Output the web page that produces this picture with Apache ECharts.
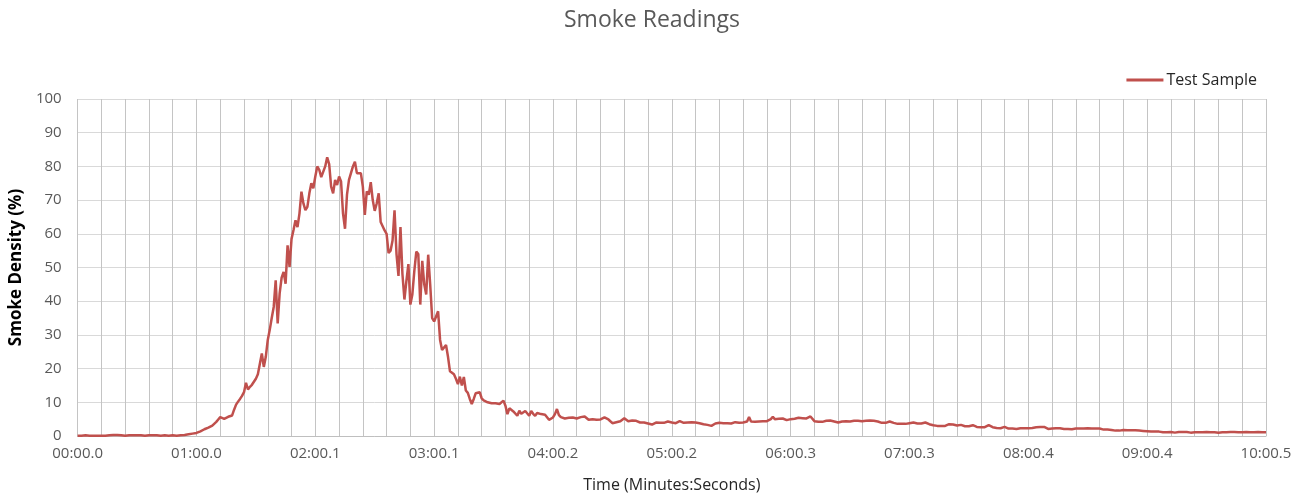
<!DOCTYPE html>
<html>
<head>
<meta charset="utf-8">
<title>Smoke Readings</title>
<script src="https://cdn.jsdelivr.net/npm/echarts@6/dist/echarts.min.js"></script>
<style>
  html, body { margin: 0; padding: 0; background: #fff; }
  #chart { width: 1304px; height: 500px; }
</style>
</head>
<body>
<div id="chart"></div>
<script>
// one reading per sample, ~1.0008 s apart (601 samples over 10:00.5)
// split per minute so it stays readable
const min0 = [0.1,0.1,0.1,0.1,0.2,0.1,0.1,0.1,0.1,0.2,
  0.1,0.1,0.1,0.2,0.1,0.1,0.2,0.2,0.3,0.4,
  0.3,0.2,0.2,0.2,0.1,0.2,0.2,0.1,0.2,0.2,
  0.2,0.3,0.2,0.2,0.1,0.2,0.2,0.3,0.2,0.1,
  0.2,0.2,0.1,0.1,0.2,0.1,0.1,0.2,0.2,0.1,
  0.1,0.1,0.2,0.3,0.3,0.4,0.5,0.6,0.7,0.8];
const min1 = [0.9,1.1,1.4,1.7,2.0,2.2,2.5,2.7,3.1,3.6,
  4.2,4.9,5.6,5.3,5.1,5.4,5.7,5.9,6.1,7.8,
  9.3,10.2,11.0,11.9,13.0,15.8,13.8,14.6,15.2,15.3,
  17.0,18.3,18.5,24.5,20.5,23.5,28.5,31.5,35.0,38.3,
  46.2,33.4,42.3,47.0,48.7,45.2,56.6,50.2,58.5,61.1,
  64.0,62.0,66.0,72.5,69.0,67.0,68.0,72.0,75.0,73.5];
const min2 = [77,80,79,76.8,76.3,80,82.7,80.7,74,72,
  76,74.5,77,75.5,66,61.5,71.6,76,78,80,
  81.4,78,77.5,78,74,65.6,72.6,71.6,75.3,70,
  66.8,69,72,63.5,63,61,60,54.3,55,58,
  67,54,47.5,62,48,40.5,46,51,39,42,
  49,54.7,54,39,52,45,42,53.8,45,35];
const min3 = [34,34.5,37,28.5,25.5,26,27,23.5,19.2,18.7,
  18.3,17,15.4,17.6,15,17.5,13.5,12.8,11,9.5,
  11,12.7,12.2,13,11.2,10.6,10.3,10,9.8,9.7,
  9.3,9.7,9.2,9.5,9.9,10.5,9,6.5,8.2,8.5,
  7.3,7.5,6,7.5,6.6,7.1,7.4,7.3,6,7.4,
  6.6,6,6.8,6.7,6.5,6,6.3,6.1,4.8,5.2];
const min4 = [5.5,6.5,8.0,6.2,5.6,5.8,5.2,5.0,5.4,5.9,
  5.5,5.0,5.2,5.3,5.6,5.4,5.8,5.6,4.8,4.6,
  5.0,5.1,4.8,4.6,4.9,5.3,5.5,5.1,4.9,4.4,
  3.8,3.9,4.1,4.0,4.4,4.9,5.3,4.8,4.4,4.3,
  4.6,4.8,4.5,4.1,4.0,4.3,4.0,3.8,3.7,3.6,
  3.4,3.8,4.0,3.8,3.9,3.7,3.9,4.2,4.3,4.0];
const min5 = [4.0,4.1,3.8,4.0,4.4,4.2,3.9,4.1,4.0,3.7,
  4.1,3.9,4.0,4.2,3.8,3.6,3.5,3.4,3.3,3.1,
  3.0,3.3,3.7,4.0,3.9,3.7,3.8,3.6,3.8,3.7,
  3.7,3.9,4.1,4.0,3.9,4.1,4.0,4.0,4.3,5.6,
  4.3,4.0,4.2,4.5,4.3,4.1,4.4,4.7,4.4,4.3,
  5.0,5.7,5.0,4.7,5.1,5.5,5.2,4.9,4.7,4.9];
const min6 = [5.0,5.2,5.1,5.3,5.4,5.5,5.3,5.4,5.2,5.6,
  5.8,5.3,4.4,4.0,4.2,4.3,4.2,4.4,4.5,4.4,
  4.6,4.4,4.3,4.2,4.0,4.1,4.3,4.5,4.4,4.2,
  4.3,4.4,4.5,4.7,4.5,4.3,4.4,4.3,4.5,4.7,
  4.6,4.4,4.5,4.4,4.3,4.2,3.9,3.7,3.9,4.1,
  4.3,4.1,3.9,3.7,3.6,3.5,3.6,3.7,3.6,3.7];
const min7 = [3.8,3.9,4.0,3.8,3.7,3.6,3.7,3.9,4.0,3.7,
  3.5,3.3,3.2,3.1,3.0,3.1,3.0,2.9,3.0,3.2,
  3.5,3.7,3.4,3.0,3.1,3.2,3.3,3.2,2.9,2.7,
  2.9,3.1,3.2,2.9,2.7,2.6,2.6,2.5,2.6,2.9,
  3.2,2.9,2.6,2.5,2.4,2.3,2.3,2.5,2.7,2.4,
  2.2,2.3,2.2,2.1,2.1,2.2,2.3,2.2,2.3,2.3];
const min8 = [2.3,2.4,2.4,2.5,2.6,2.6,2.7,2.8,2.7,2.4,
  2.1,2.0,2.2,2.3,2.3,2.2,2.3,2.2,2.1,2.2,
  2.1,2.0,2.0,2.1,2.2,2.1,2.2,2.3,2.2,2.2,
  2.3,2.3,2.2,2.3,2.2,2.1,2.2,2.1,1.9,1.8,
  1.9,1.8,1.8,1.7,1.6,1.7,1.6,1.7,1.8,1.8,
  1.7,1.8,1.7,1.6,1.7,1.6,1.6,1.5,1.5,1.4];
const min9 = [1.4,1.3,1.3,1.4,1.3,1.2,1.3,1.2,1.1,1.2,
  1.1,1.2,1.2,1.1,1.0,1.1,1.2,1.1,1.2,1.3,
  1.2,1.1,1.0,1.0,1.1,1.0,1.1,1.2,1.1,1.2,
  1.2,1.1,1.1,1.2,1.1,1.1,1.0,1.1,1.1,1.2,
  1.1,1.1,1.2,1.3,1.2,1.2,1.1,1.2,1.1,1.1,
  1.2,1.1,1.1,1.0,1.1,1.1,1.2,1.1,1.1,1.1];
const lastReading = [1.1];

const smokeData = [].concat(min0, min1, min2, min3, min4, min5, min6, min7, min8, min9, lastReading);

// time stamps: total run 600.5 s over 600 steps, shown as mm:ss.t (truncated)
const totalTenths = 6005;
const steps = smokeData.length - 1;
const timeLabels = smokeData.map(function (v, i) {
  var tenths = Math.floor(i * totalTenths / steps);
  var m = Math.floor(tenths / 600);
  var s = Math.floor((tenths % 600) / 10);
  var t = tenths % 10;
  return (m < 10 ? '0' : '') + m + ':' + (s < 10 ? '0' : '') + s + '.' + t;
});

var chart = echarts.init(document.getElementById('chart'));
chart.setOption({
  backgroundColor: '#fff',
  animation: false,
  textStyle: { fontFamily: 'Open Sans' },
  title: {
    text: 'Smoke Readings',
    left: 'center',
    top: 4,
    textStyle: { color: '#595959', fontSize: 23, fontWeight: 'normal', fontFamily: 'Open Sans' }
  },
  legend: {
    right: 47,
    top: 72,
    padding: 0,
    icon: 'rect',
    itemWidth: 37,
    itemHeight: 3,
    itemGap: 4,
    data: ['Test Sample'],
    textStyle: { color: '#262626', fontSize: 16, fontFamily: 'Open Sans', padding: [0, 0, 0, -2] }
  },
  grid: { left: 75, right: 38, top: 99, bottom: 64 },
  xAxis: {
    type: 'category',
    data: timeLabels,
    boundaryGap: false,
    name: 'Time (Minutes:Seconds)',
    nameLocation: 'middle',
    nameGap: 41,
    nameTextStyle: { color: '#262626', fontSize: 16 },
    axisLine: { lineStyle: { color: '#bfbfbf', width: 1 } },
    axisTick: { show: false },
    axisLabel: { interval: 59, color: '#595959', fontSize: 15, margin: 10, showMaxLabel: true },
    splitLine: {
      show: true,
      interval: function (index) { return index % 12 === 0; },
      lineStyle: { color: '#c4c4c4', width: 1 }
    }
  },
  yAxis: {
    type: 'value',
    min: 0,
    max: 100,
    interval: 10,
    name: 'Smoke Density (%)',
    nameLocation: 'middle',
    nameGap: 50,
    nameTextStyle: { color: '#000', fontSize: 17, fontWeight: 'bold' },
    axisLine: { show: false },
    axisTick: { show: false },
    axisLabel: { color: '#595959', fontSize: 15, margin: 16 },
    splitLine: { lineStyle: { color: '#d9d9d9', width: 1 } }
  },
  series: [
    {
      name: 'Test Sample',
      type: 'line',
      data: smokeData,
      showSymbol: false,
      symbol: 'none',
      itemStyle: { color: '#c0504d' },
      lineStyle: { color: '#c0504d', width: 2.5 }
    }
  ]
});
</script>
</body>
</html>
